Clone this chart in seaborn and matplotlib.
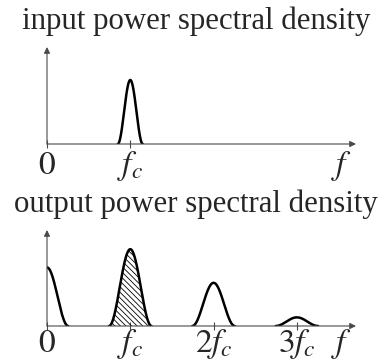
import numpy as np
import pandas as pd
import matplotlib
matplotlib.use("Agg")
import matplotlib.pyplot as plt
import seaborn as sns

# Spectral lobes, frequency in units of the carrier f_c, height relative to the vertical axis
input_centers = [1.0]
input_heights = [0.66]
input_halfwidth = 0.15

output_centers = [0.0, 1.0, 2.0, 3.0]
output_heights = [0.61, 0.80, 0.45, 0.09]
output_halfwidth = 0.255

input_ticks = [0, 1]
input_ticklabels = ["$0$", "$f_c$"]
output_ticks = [0, 1, 2, 3]
output_ticklabels = ["$0$", "$f_c$", "$2f_c$", "$3f_c$"]

titles = ["input power spectral density", "output power spectral density"]
axis_label = "$f$"

X_MAX = 3.71
F_LABEL_POS = 3.54

sns.set_style("white")
plt.rcParams["font.family"] = ["Liberation Serif", "DejaVu Serif"]
plt.rcParams["mathtext.fontset"] = "stix"
plt.rcParams["hatch.linewidth"] = 0.6

AXIS_COLOR = "#4a4a4a"
LABEL_SIZE = 24
TITLE_SIZE = 22.2


def lobe_frame(centers, heights, halfwidth, n=400):
    """Raised-cosine lobes sampled on the visible frequency range."""
    frames = []
    for k, (c, h) in enumerate(zip(centers, heights)):
        lo, hi = max(c - halfwidth, 0.0), c + halfwidth
        xs = np.linspace(lo, hi, n)
        ys = h * np.cos(np.pi * (xs - c) / (2 * halfwidth)) ** 2
        frames.append(pd.DataFrame({"f": xs, "S": ys, "lobe": k}))
    return pd.concat(frames, ignore_index=True)


def draw_axes(ax, ticks, labels, label_drop):
    ax.set_xlim(0, X_MAX)
    ax.set_ylim(0, 1)
    for s in ax.spines.values():
        s.set_visible(False)
    ax.set_yticks([])
    ax.set_xticks(ticks)
    ax.set_xticklabels([""] * len(ticks))
    ax.tick_params(axis="x", direction="inout", length=6, width=0.8,
                   color=AXIS_COLOR, bottom=True)
    ax.set_xlabel("")
    ax.set_ylabel("")
    arrow = dict(arrowstyle="-|>", color=AXIS_COLOR, lw=0.8,
                 mutation_scale=9, shrinkA=0, shrinkB=0)
    ax.annotate("", xy=(1, 0), xytext=(0, 0), xycoords="axes fraction",
                textcoords="axes fraction", arrowprops=arrow, annotation_clip=False)
    ax.annotate("", xy=(0, 1), xytext=(0, 0), xycoords="axes fraction",
                textcoords="axes fraction", arrowprops=arrow, annotation_clip=False)
    for t, lab in zip(ticks, labels):
        ax.annotate(lab, xy=(t, 0), xytext=(0, -label_drop), textcoords="offset points",
                    ha="center", va="baseline", fontsize=LABEL_SIZE,
                    annotation_clip=False)
    ax.annotate(axis_label, xy=(F_LABEL_POS, 0), xytext=(0, -label_drop),
                textcoords="offset points", ha="center", va="baseline",
                fontsize=LABEL_SIZE, annotation_clip=False)


fig = plt.figure(figsize=(3.92, 3.63), dpi=100)
ax_in = fig.add_axes([47 / 392, 1 - 144 / 363, 309 / 392, 97 / 363])
ax_out = fig.add_axes([47 / 392, 1 - 326 / 363, 309 / 392, 96 / 363])
for a in (ax_in, ax_out):
    a.patch.set_alpha(0)

df_in = lobe_frame(input_centers, input_heights, input_halfwidth)
df_out = lobe_frame(output_centers, output_heights, output_halfwidth)

# Carrier lobe of the output is hatched
carrier = df_out[df_out["lobe"] == 1]
ax_out.fill_between(carrier["f"], 0, carrier["S"], facecolor="none",
                    edgecolor="black", hatch="\\\\\\\\\\\\", linewidth=0)

sns.lineplot(data=df_in, x="f", y="S", units="lobe", estimator=None,
             color="black", lw=1.8, ax=ax_in, sort=False)
sns.lineplot(data=df_out, x="f", y="S", units="lobe", estimator=None,
             color="black", lw=1.8, ax=ax_out, sort=False)

draw_axes(ax_in, input_ticks, input_ticklabels, 21.5)
draw_axes(ax_out, output_ticks, output_ticklabels, 18.5)

fig.text(0.5, 1 - 21 / 363, titles[0], ha="center", va="center", fontsize=TITLE_SIZE)
fig.text(0.5, 1 - 204 / 363, titles[1], ha="center", va="center", fontsize=TITLE_SIZE)

fig.savefig("out.png", dpi=100)
